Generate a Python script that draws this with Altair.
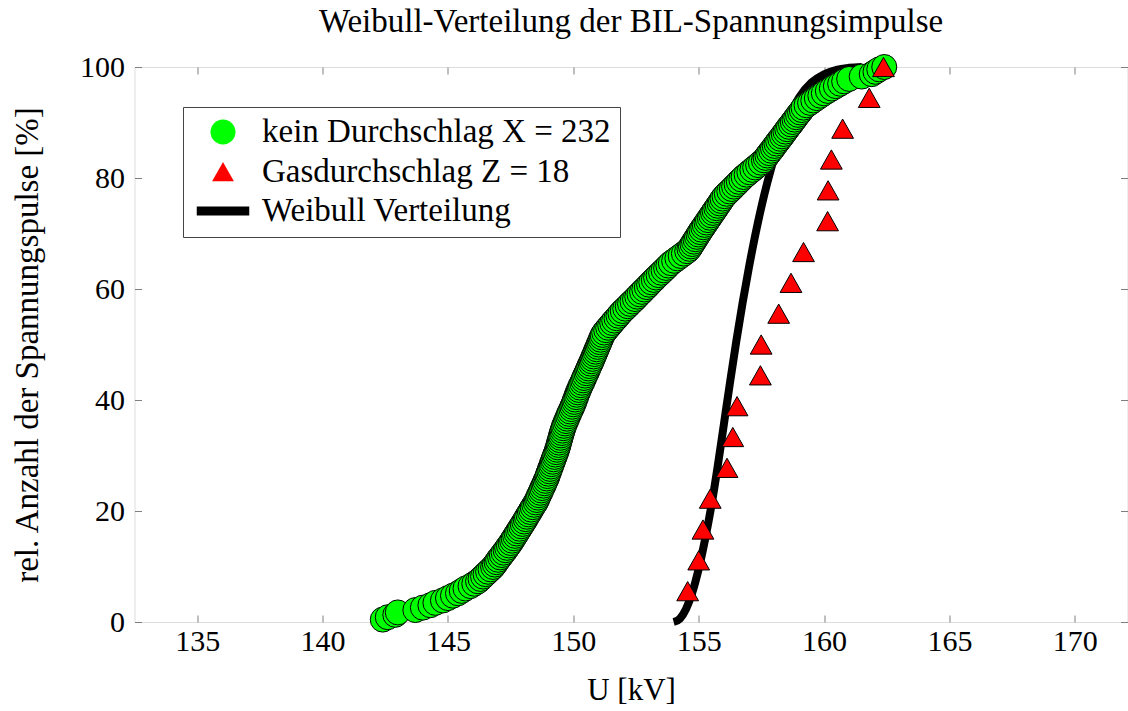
import altair as alt
import pandas as pd

# ---- data ----
# "kein Durchschlag": 232 voltages (kV), sorted (cumulative plot)
kein_x = [
    142.4, 142.6, 142.9, 143.0, 143.7, 144.0, 144.3, 144.5, 144.8, 145.0,
    145.2, 145.4, 145.55, 145.7, 145.9, 146.05, 146.2, 146.3, 146.4, 146.5,
    146.6, 146.7, 146.8,
    146.87, 146.94, 147.0, 147.08, 147.15, 147.22, 147.3, 147.36, 147.43, 147.5,
    147.56, 147.62, 147.68, 147.74, 147.8, 147.86, 147.92, 147.98,
    148.04, 148.1, 148.15, 148.21, 148.27, 148.32, 148.38, 148.44, 148.5, 148.55,
    148.59, 148.63, 148.68, 148.72, 148.76, 148.81, 148.85, 148.89, 148.94,
    148.97, 149.0, 149.04, 149.07, 149.11, 149.14, 149.18, 149.21, 149.25, 149.28, 149.32,
    149.35, 149.38, 149.41, 149.43, 149.46, 149.49, 149.51, 149.54, 149.57, 149.6,
    149.63, 149.67, 149.71, 149.75, 149.79, 149.83, 149.87, 149.92, 149.96,
    150.0, 150.04, 150.07, 150.11, 150.14,
    150.18, 150.22, 150.26, 150.3, 150.35, 150.39, 150.43, 150.47, 150.52, 150.56,
    150.6, 150.64, 150.69,
    150.73, 150.77, 150.81, 150.85, 150.89, 150.93, 150.97, 151.01, 151.05, 151.09,
    151.13, 151.17,
    151.23, 151.31, 151.39, 151.47, 151.55, 151.63, 151.72, 151.8, 151.88,
    151.97, 152.07, 152.17, 152.26, 152.36, 152.46,
    152.55, 152.64, 152.74, 152.83, 152.93, 153.02, 153.11,
    153.21, 153.3, 153.4, 153.5, 153.6, 153.7, 153.79, 153.89,
    154.02, 154.15, 154.28, 154.41, 154.54,
    154.63, 154.69, 154.75, 154.81, 154.87, 154.93, 154.99, 155.05,
    155.11, 155.18, 155.24, 155.31, 155.37, 155.44, 155.5, 155.57, 155.63, 155.7,
    155.76, 155.83, 155.89, 155.95,
    156.03, 156.12, 156.22, 156.32, 156.41, 156.51, 156.6, 156.7, 156.79,
    156.91, 157.02, 157.14, 157.25, 157.37, 157.48, 157.6,
    157.67, 157.74, 157.81, 157.89, 157.96, 158.03, 158.1, 158.17, 158.25,
    158.32, 158.39, 158.46, 158.53, 158.6, 158.68, 158.75, 158.82, 158.89, 158.96,
    159.04, 159.11, 159.18,
    159.3, 159.44, 159.57, 159.71, 159.85, 159.99,
    160.15, 160.31, 160.47, 160.64, 160.8,
    161.0, 161.5, 161.9,
    162.05, 162.2, 162.4,
]

# "Gasdurchschlag": 18 voltages (kV), sorted
gas_x = [154.56, 155.0, 155.17, 155.46, 156.13, 156.36, 156.53, 157.46, 157.49,
         158.19, 158.68, 159.18, 160.14, 160.16, 160.29, 160.74, 161.8, 162.37]

# Weibull distribution curve
weibull_x = [154.0, 154.25, 154.5, 154.75, 155.0, 155.25, 155.5, 155.75, 156.0,
             156.25, 156.5, 156.75, 157.0, 157.25, 157.5, 157.75, 158.0, 158.5,
             159.0, 159.5, 160.0, 160.5, 161.0, 161.5]
weibull_y = [0.0, 0.6, 2.4, 5.4, 9.6, 14.8, 20.8, 27.8, 35.5,
             43.2, 50.6, 57.5, 63.8, 69.6, 74.8, 79.4, 83.5, 90.0,
             94.5, 97.2, 98.7, 99.5, 99.85, 100.0]

series_names = ["kein Durchschlag X = 232", "Gasdurchschlag Z = 18", "Weibull Verteilung"]
series_colors = ["#00ff00", "#ff0000", "#000000"]
series_shapes = ["circle",
                 "M0,-0.77L0.87,0.77L-0.87,0.77Z",
                 "M-2.1,-0.36L2.1,-0.36L2.1,0.36L-2.1,0.36Z"]

x_ticks = [135, 140, 145, 150, 155, 160, 165, 170]
y_ticks = [0, 20, 40, 60, 80, 100]

# ---- tables ----
n_k = len(kein_x)
df_k = pd.DataFrame({"U": kein_x,
                     "P": [100.0 * (i + 1) / n_k for i in range(n_k)],
                     "series": series_names[0]})
n_g = len(gas_x)
df_g = pd.DataFrame({"U": gas_x,
                     "P": [100.0 * (i + 1) / n_g for i in range(n_g)],
                     "series": series_names[1]})
df_w = pd.DataFrame({"U": weibull_x, "P": weibull_y})

W, H = 993, 555
FONT = "Liberation Serif"

xscale = alt.Scale(domain=[132.5, 172.1], nice=False, zero=False)
yscale = alt.Scale(domain=[0, 100], nice=False, zero=False)


def tick_axis(orient, offset):
    return alt.Axis(orient=orient, offset=offset, values=x_ticks if orient in ("top", "bottom") else y_ticks,
                    labels=False, title=None, domain=False, grid=False,
                    ticks=True, tickSize=7, tickColor="#7f7f7f", tickWidth=1)


x_main = alt.Axis(orient="bottom", values=x_ticks, ticks=False, domain=False, grid=False,
                  labelFont=FONT, labelFontSize=30, labelColor="black", labelPadding=4,
                  title="U [kV]", titleFont=FONT, titleFontSize=31, titleFontWeight="normal",
                  titleColor="black", titlePadding=19, format="d")
y_main = alt.Axis(orient="left", values=y_ticks, ticks=False, domain=False, grid=False,
                  labelFont=FONT, labelFontSize=30, labelColor="black", labelPadding=10,
                  title="rel. Anzahl der Spannungspulse [%]", titleFont=FONT, titleFontSize=33,
                  titleFontWeight="normal", titleColor="black", titlePadding=35, format="d")

legend = alt.Legend(title=None, orient="none", legendX=48.5, legendY=40,
                    padding=8.5, rowPadding=5.5, symbolOffset=15, labelOffset=22.5,
                    labelFont=FONT, labelFontSize=33, labelColor="black", labelLimit=1000,
                    symbolSize=625, symbolStrokeColor="black", symbolStrokeWidth=1,
                    symbolOpacity=1, strokeColor="#444444", fillColor="white")

color_enc = alt.Color("series:N", scale=alt.Scale(domain=series_names, range=series_colors),
                      legend=legend)
shape_enc = alt.Shape("series:N", scale=alt.Scale(domain=series_names, range=series_shapes),
                      legend=legend)

line = alt.Chart(df_w).mark_line(color="black", strokeWidth=8, interpolate="monotone").encode(
    x=alt.X("U:Q", scale=xscale, axis=x_main),
    y=alt.Y("P:Q", scale=yscale, axis=y_main),
    order=alt.Order("U:Q"),
)

green = alt.Chart(df_k).mark_point(filled=True, size=625, stroke="black", strokeWidth=1,
                                   opacity=1).encode(
    x=alt.X("U:Q", scale=xscale, axis=tick_axis("top", -H)),
    y=alt.Y("P:Q", scale=yscale, axis=tick_axis("right", -W)),
    color=color_enc,
    shape=shape_enc,
)

red = alt.Chart(df_g).mark_point(filled=True, size=625, stroke="black", strokeWidth=1,
                                 opacity=1).encode(
    x=alt.X("U:Q", scale=xscale, axis=tick_axis("bottom", -H)),
    y=alt.Y("P:Q", scale=yscale, axis=tick_axis("left", -W)),
    color=color_enc,
    shape=shape_enc,
)

chart = alt.layer(line, green, red).resolve_axis(x="independent", y="independent").properties(
    width=W, height=H,
    autosize="none",
    padding={"left": 134.5, "top": 67, "right": 0.5, "bottom": 89},
    title=alt.TitleParams("Weibull-Verteilung der BIL-Spannungsimpulse", font=FONT, fontSize=33,
                          fontWeight="normal", color="black", anchor="middle", offset=0, dy=14,
                          baseline="alphabetic"),
).configure_view(stroke="black", strokeWidth=1).configure(background="white")

chart.save("out.html", embed_options={"renderer": "svg", "actions": False})
